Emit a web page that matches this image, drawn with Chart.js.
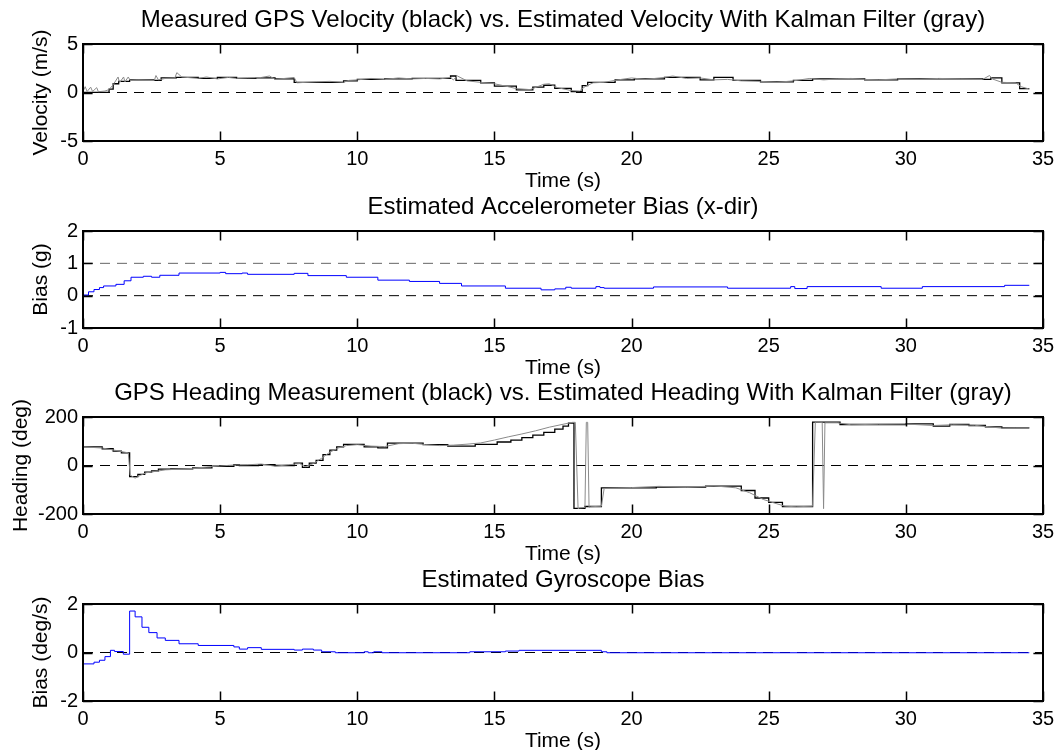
<!DOCTYPE html>
<html>
<head>
<meta charset="utf-8">
<title>GPS / Kalman</title>
<script src="https://cdn.jsdelivr.net/npm/chart.js@4.4.0/dist/chart.umd.min.js"></script>
<style>
    html, body { margin: 0; padding: 0; background: #fff; overflow: hidden; }
    #wrap { position: relative; width: 1061px; height: 750px; }
    #wrap canvas { position: absolute; left: 0; }
</style>
</head>
<body>
<div id="wrap">
    <canvas id="velChart" width="1061" height="200" style="top:0px"></canvas>
    <canvas id="accChart" width="1061" height="200" style="top:187px"></canvas>
    <canvas id="hdgChart" width="1061" height="200" style="top:373px"></canvas>
    <canvas id="gyroChart" width="1061" height="200" style="top:560px"></canvas>
</div>
<script>
/**
 * ============================================
 * DADES
 * ============================================
 */

// Velocitat GPS mesurada (negre, esglaons)
const velMeasTime = [0, 0.95, 1.1, 1.3, 1.7, 2.6, 2.85, 3.4, 4.2, 4.9, 5.6, 6.3, 7.0, 7.7, 9.5, 10.0, 11.0, 12.0, 13.4, 13.6,
    14.5, 15.0, 15.8, 16.4, 16.8, 17.2, 17.8, 18.2, 18.4, 19.4, 20.1, 21.2, 22.5, 23.0, 23.7, 24.7, 25.9, 26.6, 28.5, 29.7,
    32.8, 33.1, 33.5, 34.15, 34.5];
const velMeas = [0.02, 0.35, 0.9, 1.15, 1.3, 1.25, 1.5, 1.55, 1.45, 1.55, 1.45, 1.5, 1.4, 1.05, 1.2, 1.35, 1.4, 1.45, 1.7, 1.25,
    1.0, 0.65, 0.28, 0.55, 0.75, 0.42, 0.1, 0.7, 1.05, 1.3, 1.4, 1.55, 1.3, 1.55, 1.25, 1.1, 1.25, 1.4, 1.3, 1.4,
    1.35, 1.5, 1.0, 0.4, 0.4];

// Velocitat estimada amb Kalman (gris)
const velEstTime = [0, 0.08, 0.15, 0.28, 0.35, 0.5, 0.56, 0.8, 0.95, 1.1, 1.28, 1.33, 1.48, 1.53, 1.65, 1.72, 2.0, 2.6, 2.66, 2.75,
    3.0, 3.35, 3.42, 3.6, 4.2, 4.5, 4.9, 5.3, 5.6, 6.0, 6.5, 6.8, 7.0, 7.7, 7.8, 8.5, 9.0, 9.5, 9.7, 10.0,
    10.5, 11.0, 11.5, 12.0, 12.5, 13.0, 13.4, 13.5, 13.65, 14.0, 14.5, 15.0, 15.5, 15.8, 16.3, 16.8, 17.0, 17.3, 17.8, 18.1,
    18.3, 18.6, 19.0, 19.5, 20.0, 20.5, 21.2, 21.5, 22.0, 22.5, 23.0, 23.5, 24.0, 24.7, 25.3, 25.9, 26.5, 27.0, 27.5, 28.0,
    28.5, 29.0, 29.7, 30.5, 31.2, 32.0, 32.8, 33.05, 33.15, 33.5, 34.0, 34.2, 34.5];
const velEst = [0.1, 0.6, 0.1, 0.55, 0.1, 0.5, 0.08, 0.15, 0.3, 0.8, 1.6, 1.0, 1.6, 1.1, 1.6, 1.25, 1.3, 1.25, 1.75, 1.3,
    1.45, 1.5, 2.05, 1.6, 1.45, 1.6, 1.4, 1.55, 1.45, 1.5, 1.55, 1.7, 1.35, 1.55, 1.0, 1.1, 1.15, 1.05, 1.25, 1.3,
    1.45, 1.35, 1.5, 1.4, 1.45, 1.4, 1.55, 1.3, 1.7, 1.2, 1.05, 0.9, 0.6, 0.4, 0.3, 0.85, 0.9, 0.5, 0.2, 0.15,
    0.6, 1.0, 1.05, 1.3, 1.5, 1.35, 1.55, 1.7, 1.45, 1.5, 1.3, 1.35, 1.2, 1.15, 1.05, 1.2, 1.45, 1.3, 1.4, 1.45,
    1.35, 1.3, 1.4, 1.35, 1.45, 1.4, 1.35, 1.75, 1.4, 1.05, 1.0, 0.6, 0.35];

// Biaix de l'acceleròmetre (blau)
const accTime = [0, 0.2, 0.4, 0.6, 0.75, 1.2, 1.5, 1.75, 2.2, 2.5, 2.8, 3.5, 5.0, 5.2, 5.8, 6.0, 7.7, 8.2, 9.6, 10.75,
    11.9, 13.0, 13.8, 15.4, 16.7, 17.2, 17.6, 17.8, 18.7, 18.85, 19.0, 20.8, 23.5, 25.8, 25.95, 26.4, 29.1, 30.6, 33.6, 34.5];
const accBias = [0.02, 0.12, 0.19, 0.25, 0.3, 0.35, 0.46, 0.57, 0.6, 0.57, 0.63, 0.7, 0.72, 0.68, 0.7, 0.66, 0.69, 0.62, 0.57, 0.48,
    0.44, 0.38, 0.30, 0.23, 0.18, 0.21, 0.26, 0.23, 0.28, 0.25, 0.23, 0.27, 0.23, 0.28, 0.22, 0.28, 0.23, 0.28, 0.32, 0.32];

// Rumb GPS mesurat (negre, esglaons)
const hdgMeasTime = [0, 0.7, 1.1, 1.4, 1.7, 2.0, 2.25, 2.5, 2.75, 3.2, 4.0, 4.7, 5.5, 5.7, 6.4, 7.0, 7.7, 8.0, 8.25, 8.5,
    8.75, 9.0, 9.25, 9.5, 10.25, 10.75, 11.1, 12.4, 13.3, 14.3, 15.1, 15.6, 16.0, 16.4, 16.8, 17.2, 17.5, 17.7, 17.9, 18.3,
    18.9, 20.9, 22.7, 24.0, 24.5, 25.0, 25.5, 26.6, 27.6, 30.0, 31.0, 31.6, 32.3, 32.9, 33.5, 34.5];
const hdgMeas = [77, 69, 59, 52, -46, -37, -27, -22, -15, -14, -10, -3, 3, 0, 4, 0, 10, -8, 10, 21,
    45, 63, 77, 87, 77, 73, 92, 86, 80, 87, 97, 105, 115, 125, 137, 150, 162, 175, -177, -169,
    -92, -89, -85, -103, -134, -152, -169, 179, 169, 172, 162, 169, 165, 159, 155, 155];

// Rumb estimat amb Kalman (gris)
const hdgEstTime = [0, 0.7, 1.2, 1.65, 1.72, 1.9, 2.1, 2.3, 2.6, 3.0, 3.5, 4.0, 4.5, 5.0, 5.5, 6.0, 6.5, 7.0, 7.5, 7.9,
    8.1, 8.4, 8.7, 9.0, 9.3, 9.6, 10.0, 10.5, 11.0, 11.5, 12.0, 12.5, 13.0, 13.5, 14.0, 14.5, 15.0, 15.5, 16.0, 16.5,
    17.0, 17.5, 17.85, 17.95, 18.05, 18.1, 18.3, 18.35, 18.4, 18.45, 18.5, 18.9, 19.0, 19.5, 20.0, 21.0, 22.0, 23.0, 23.8, 24.3,
    24.8, 25.3, 25.6, 26.0, 26.6, 26.7, 26.95, 27.0, 27.05, 27.5, 28.0, 29.0, 30.0, 31.0, 31.7, 32.5, 33.0, 33.5, 34.0, 34.5];
const hdgEst = [77, 72, 62, 52, -40, -52, -40, -30, -25, -18, -15, -12, -6, -2, 2, 3, 6, -3, 3, 8,
    -5, 8, 30, 55, 72, 82, 86, 80, 78, 90, 92, 86, 82, 84, 88, 93, 105, 118, 130, 143,
    158, 170, 178, 178, -178, -175, -173, 178, 178, -172, -170, -168, -95, -93, -91, -86, -90, -84, -92, -112,
    -140, -158, -168, -170, -168, 179, 178, -178, 176, 176, 168, 170, 171, 165, 168, 166, 160, 154, 155, 155];

// Biaix del giroscopi (blau)
const gyroTime = [0, 0.4, 0.6, 0.8, 1.0, 1.15, 1.47, 1.7, 1.9, 2.15, 2.4, 2.7, 3.0, 3.5, 4.2, 5.5, 5.7, 6.0, 6.5, 7.7,
    8.0, 8.4, 8.7, 9.2, 10.25, 10.4, 10.6, 10.9, 14.1, 15.4, 15.9, 18.9, 19.1, 34.5];
const gyroBias = [-0.47, -0.4, -0.32, -0.17, 0.09, 0.04, -0.07, 1.71, 1.47, 1.04, 0.82, 0.6, 0.5, 0.36, 0.29, 0.23, 0.14, 0.2, 0.13, 0.1,
    0.14, 0.1, 0.03, -0.01, 0.03, -0.01, 0.03, -0.01, 0.03, 0.06, 0.09, 0.03, -0.01, -0.01];

// Línies de referència discontínues
const refTime = [0, 35];
const zeroLevel = [0, 0];
const oneLevel = [1, 1];

/**
 * ============================================
 * CONFIGURACIÓ
 * ============================================
 */
const FONT = "'Liberation Sans', Arial, Helvetica, sans-serif";
const TITLE_H = 44;      // alçada del bloc de títol
const PLOT_H = 97;       // alçada de l'àrea de dibuix
const CANVAS_H = 200;
const GRAY = '#8a8a8a';
const BLUE = '#0000ff';

function zip(times, values) {
    return times.map((t, i) => ({ x: t, y: values[i] }));
}

function dashed(values, color) {
    return {
        data: zip(refTime, values),
        borderColor: color,
        borderWidth: 1,
        borderDash: [10, 7],
        pointRadius: 0
    };
}

// Caixa i marques interiors a l'estil MATLAB
const boxPlugin = {
    id: 'matlabBox',
    afterDatasetsDraw(chart) {
        const { ctx, chartArea: a, scales: { x, y } } = chart;
        const len = 9.6;
        ctx.save();
        ctx.strokeStyle = '#000';
        ctx.lineWidth = 1.5;
        ctx.beginPath();
        x.ticks.forEach(t => {
            const px = Math.round(x.getPixelForValue(t.value)) + 0.5;
            ctx.moveTo(px, a.bottom); ctx.lineTo(px, a.bottom - len);
            ctx.moveTo(px, a.top); ctx.lineTo(px, a.top + len);
        });
        y.ticks.forEach(t => {
            const py = Math.round(y.getPixelForValue(t.value)) + 0.5;
            ctx.moveTo(a.left, py); ctx.lineTo(a.left + len, py);
            ctx.moveTo(a.right, py); ctx.lineTo(a.right - len, py);
        });
        ctx.stroke();
        ctx.lineWidth = 2;
        ctx.strokeRect(a.left, a.top, a.right - a.left, a.bottom - a.top);
        ctx.restore();
    }
};

/**
 * Crea un subgràfic amb eix de temps comú
 */
function createSubplot(canvasId, cfg) {
    const canvas = document.getElementById(canvasId);
    if (!canvas) return null;
    const ctx = canvas.getContext('2d');

    return new Chart(ctx, {
        type: 'line',
        data: { datasets: cfg.datasets },
        options: {
            responsive: false,
            animation: false,
            devicePixelRatio: 1,
            layout: { padding: { left: 0, right: 18, top: 0, bottom: 0 } },
            elements: { point: { radius: 0 }, line: { tension: 0 } },
            plugins: {
                legend: { display: false },
                tooltip: { enabled: false },
                title: {
                    display: true,
                    text: cfg.title,
                    fullSize: false,
                    color: '#000',
                    font: { family: FONT, size: 24, weight: 'normal' },
                    padding: { top: 5.6, bottom: 9.6 }
                }
            },
            scales: {
                x: {
                    type: 'linear',
                    min: 0,
                    max: 35,
                    grid: { display: false, drawTicks: false },
                    border: { display: false },
                    ticks: {
                        stepSize: 5, padding: 6, color: '#000', maxRotation: 0, autoSkip: false,
                        font: { family: FONT, size: 20 }
                    },
                    title: {
                        display: true, text: 'Time (s)', color: '#000',
                        font: { family: FONT, size: 21 },
                        padding: { top: 0, bottom: 6.4 }
                    },
                    afterFit: (s) => { s.height = CANVAS_H - TITLE_H - PLOT_H; }
                },
                y: {
                    type: 'linear',
                    min: cfg.yMin,
                    max: cfg.yMax,
                    grid: { display: false, drawTicks: false },
                    border: { display: false },
                    ticks: {
                        stepSize: cfg.yStep, padding: 5, color: '#000',
                        font: { family: FONT, size: 20 }
                    },
                    title: {
                        display: true, text: cfg.yLabel, color: '#000',
                        font: { family: FONT, size: 21 },
                        padding: { top: cfg.yLabelPad, bottom: 0 }
                    },
                    afterFit: (s) => { s.width = 83; }
                }
            }
        },
        plugins: [boxPlugin]
    });
}

createSubplot('velChart', {
    title: 'Measured GPS Velocity (black) vs. Estimated Velocity With Kalman Filter (gray)',
    yLabel: 'Velocity (m/s)', yMin: -5, yMax: 5, yStep: 5, yLabelPad: 29,
    datasets: [
        { data: zip(velEstTime, velEst), borderColor: GRAY, borderWidth: 1 },
        { data: zip(velMeasTime, velMeas), borderColor: '#000', borderWidth: 1.3, stepped: true },
        dashed(zeroLevel, '#000')
    ]
});

createSubplot('accChart', {
    title: 'Estimated Accelerometer Bias (x-dir)',
    yLabel: 'Bias (g)', yMin: -1, yMax: 2, yStep: 1, yLabelPad: 29,
    datasets: [
        { data: zip(accTime, accBias), borderColor: BLUE, borderWidth: 1, stepped: true },
        dashed(oneLevel, '#666'),
        dashed(zeroLevel, '#000')
    ]
});

createSubplot('hdgChart', {
    title: 'GPS Heading Measurement (black) vs. Estimated Heading With Kalman Filter (gray)',
    yLabel: 'Heading (deg)', yMin: -200, yMax: 200, yStep: 200, yLabelPad: 9,
    datasets: [
        { data: zip(hdgEstTime, hdgEst), borderColor: GRAY, borderWidth: 1 },
        { data: zip(hdgMeasTime, hdgMeas), borderColor: '#000', borderWidth: 1.3, stepped: true },
        dashed(zeroLevel, '#000')
    ]
});

createSubplot('gyroChart', {
    title: 'Estimated Gyroscope Bias',
    yLabel: 'Bias (deg/s)', yMin: -2, yMax: 2, yStep: 2, yLabelPad: 29,
    datasets: [
        { data: zip(gyroTime, gyroBias), borderColor: BLUE, borderWidth: 1, stepped: true },
        dashed(zeroLevel, '#000')
    ]
});
</script>
</body>
</html>
